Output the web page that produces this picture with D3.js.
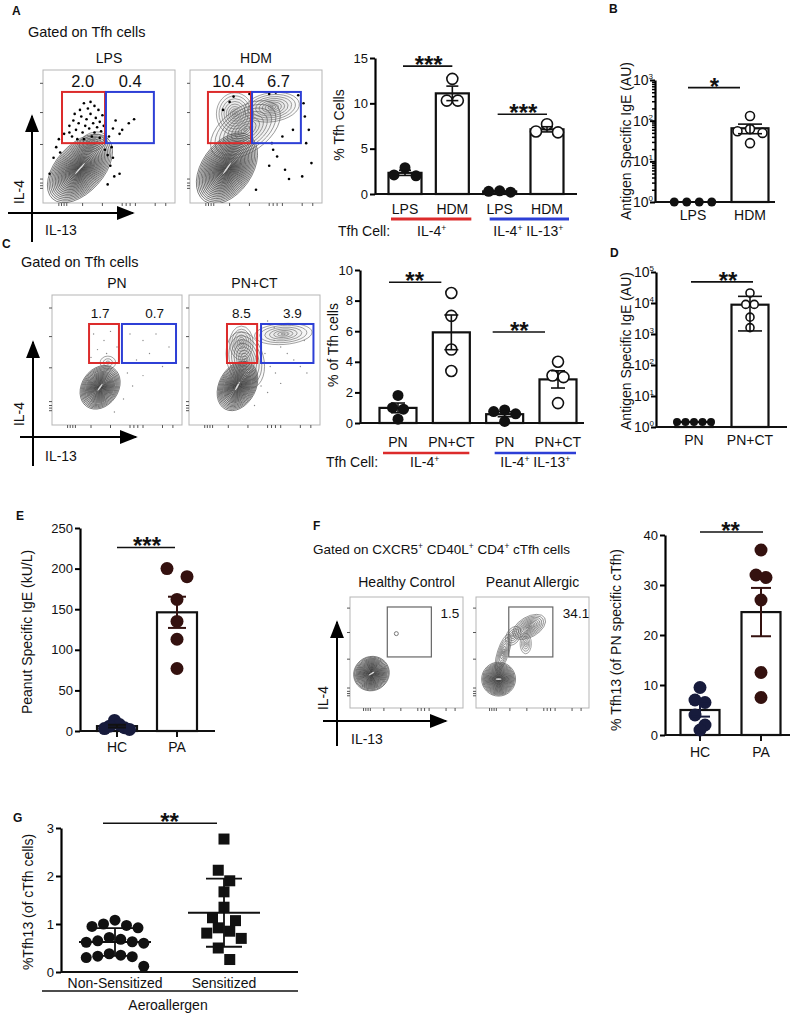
<!DOCTYPE html>
<html>
<head>
<meta charset="utf-8">
<script src="https://cdn.jsdelivr.net/npm/d3@7"></script>
<style>
  body { margin: 0; background: #fff; }
  svg text { font-family: "Liberation Sans", Arial, Helvetica, sans-serif; fill: #111; }
</style>
</head>
<body>
<svg id="fig" width="800" height="1021"></svg>
<script>
// ── Data ───────────────────────────────────────────────────────────────────
// A: % Tfh cells, IL-4+ and IL-4+IL-13+ (LPS vs HDM)
const aLabels = ['LPS', 'HDM', 'LPS', 'HDM'];
const aValues = [[2.9, 2.1, 2.0], [12.7, 10.3, 10.3], [0.35, 0.2, 0.3], [7.7, 6.9, 6.8]];
const aFilled = [true, false, true, false];
const aTicks = [0, 5, 10, 15];

// B: antigen specific IgE (log)
const bLabels = ['LPS', 'HDM'];
const bValues = [[1, 1, 1, 1], [130, 62, 55, 50, 28]];
const bFilled = [true, false];
const bTicks = [1, 10, 100, 1000];

// C: % of Tfh cells (PN vs PN+CT)
const cLabels = ['PN', 'PN+CT', 'PN', 'PN+CT'];
const cValues = [[1.8, 1.0, 0.9, 0.25], [8.5, 7.0, 4.8, 3.4], [0.85, 0.75, 0.6, 0.1], [4.0, 3.1, 3.0, 1.3]];
const cFilled = [true, false, true, false];
const cTicks = [0, 2, 4, 6, 8, 10];

// D: antigen specific IgE (log)
const dLabels = ['PN', 'PN+CT'];
const dValues = [[1.45, 1.45, 1.45, 1.45, 1.45], [21000, 9000, 9000, 3500, 1600]];
const dFilled = [true, false];
const dTicks = [1, 10, 100, 1000, 10000, 100000];

// E: peanut specific IgE (kU/L)
const eLabels = ['HC', 'PA'];
const eValues = [[13, 8, 6, 4, 3, 2], [200, 190, 162, 135, 113, 77]];
const eTicks = [0, 50, 100, 150, 200, 250];

// F: % Tfh13 of PN specific cTfh
const fLabels = ['HC', 'PA'];
const fValues = [[9.5, 7, 6.5, 4, 2, 1], [37, 32, 31.5, 27, 12.5, 7.5]];
const fTicks = [0, 10, 20, 30, 40];

// G: % Tfh13 of cTfh cells
const gLabels = ['Non-Sensitized', 'Sensitized'];
const gValues = [
  [1.08, 1.0, 0.97, 0.95, 0.92, 0.72, 0.68, 0.65, 0.63, 0.62, 0.6, 0.38, 0.35, 0.33, 0.32, 0.3, 0.12],
  [2.77, 2.12, 1.9, 1.67, 1.35, 1.13, 1.07, 0.92, 0.85, 0.81, 0.7, 0.5, 0.26]
];
const gTicks = [0, 1, 2, 3];

const HC_COL = '#171b3c';
const PA_COL = '#34110f';

// ── Flow plot shapes (relative to each plot box) ─────────────────────────────
const lpsBlobs = [
  { cx: .28, cy: .74, rx: .31, ry: .18, rot: -48, n: 26 },
  { cx: .38, cy: .54, rx: .11, ry: .07, rot: -20, n: 5 }
];
const lpsDots = [[.2,.42],[.23,.38],[.25,.45],[.27,.4],[.29,.35],[.3,.47],[.32,.42],[.33,.37],[.35,.44],[.36,.33],
  [.38,.4],[.39,.47],[.4,.36],[.41,.43],[.42,.3],[.43,.39],[.44,.46],[.45,.34],[.46,.42],[.22,.5],[.26,.52],[.31,.52],
  [.37,.5],[.43,.51],[.34,.29],[.39,.27],[.28,.3],[.47,.5],[.2,.47],[.16,.48],[.12,.52],[.1,.58],[.13,.62],[.08,.66],
  [.05,.78],[.5,.5],[.53,.44],[.55,.38],[.6,.45],[.65,.4],[.69,.37],[.58,.48],[.52,.58],[.53,.66],[.51,.72],[.54,.8],
  [.49,.86],[.58,.78],[.47,.6],[.49,.64],[.24,.33],[.31,.25],[.36,.24]];
const hdmBlobs = [
  { cx: .28, cy: .74, rx: .30, ry: .19, rot: -55, n: 26 },
  { cx: .42, cy: .45, rx: .30, ry: .17, rot: -35, n: 10 },
  { cx: .34, cy: .33, rx: .14, ry: .16, rot: 0, n: 9 },
  { cx: .62, cy: .28, rx: .21, ry: .11, rot: -8, n: 9 }
];
const hdmDots = [[.33,.2],[.45,.18],[.6,.18],[.65,.17],[.82,.19],[.86,.25],[.87,.35],[.9,.45],[.78,.45],[.7,.5],
  [.62,.55],[.63,.6],[.66,.65],[.6,.72],[.72,.75],[.75,.82],[.85,.8],[.5,.9],[.88,.55],[.92,.7],[.25,.3],[.3,.24]];
const pnBlobs = [
  { cx: .37, cy: .71, rx: .18, ry: .14, rot: -55, n: 24 },
  { cx: .43, cy: .52, rx: .06, ry: .05, rot: 0, n: 3 }
];
const pnDots = [[.32,.3],[.4,.35],[.45,.28],[.35,.42],[.5,.4],[.6,.3],[.7,.35],[.75,.45],[.65,.5],[.8,.3],[.9,.4],
  [.58,.6],[.62,.7],[.55,.8],[.7,.62],[.48,.9],[.85,.55],[.42,.45],[.3,.48]];
const pnctBlobs = [
  { cx: .37, cy: .70, rx: .20, ry: .14, rot: -62, n: 24 },
  { cx: .43, cy: .50, rx: .14, ry: .22, rot: -15, n: 9 },
  { cx: .40, cy: .37, rx: .09, ry: .13, rot: 0, n: 7 },
  { cx: .72, cy: .30, rx: .22, ry: .08, rot: -4, n: 7 }
];
const pnctDots = [[.6,.2],[.65,.25],[.7,.4],[.75,.45],[.8,.5],[.85,.55],[.58,.45],[.62,.55],[.66,.6],[.55,.7],
  [.6,.75],[.7,.68],[.9,.6],[.5,.85],[.75,.3],[.82,.22],[.88,.35],[.55,.35],[.65,.35],[.72,.52]];
const hcBlobs = [{ cx: .19, cy: .69, rx: .16, ry: .15, rot: -30, n: 24 }];
const hcDots = [[.41, .33]];
const paBlobs = [
  { cx: .20, cy: .74, rx: .15, ry: .15, rot: 0, n: 24 },
  { cx: .24, cy: .50, rx: .05, ry: .17, rot: 18, n: 7 },
  { cx: .33, cy: .35, rx: .06, ry: .09, rot: 30, n: 5 },
  { cx: .47, cy: .27, rx: .16, ry: .09, rot: -30, n: 11 },
  { cx: .44, cy: .42, rx: .05, ry: .09, rot: 0, n: 5 }
];
const flowTicksY = [.1, .32, .56, .82, .85, .87, .89];
const flowTicksX = [.12, .14, .16, .18, .3, .45, .6, .63, .66, .7, .85, .93];

// ── Setup ──────────────────────────────────────────────────────────────────
const svg = d3.select('#fig');
const defs = svg.append('defs');
defs.append('marker')
  .attr('id', 'arrow').attr('viewBox', '0 -5 10 10').attr('refX', 9).attr('refY', 0)
  .attr('markerWidth', 9).attr('markerHeight', 7).attr('preserveAspectRatio', 'none')
  .attr('orient', 'auto')
  .append('path').attr('d', 'M0,-5L10,0L0,5Z').attr('fill', '#000');

function label(x, y, txt, opts = {}) {
  return svg.append('text').attr('x', x).attr('y', y)
    .attr('text-anchor', opts.anchor || 'start')
    .attr('font-size', opts.size || 14)
    .attr('font-weight', opts.bold ? 'bold' : null)
    .text(txt);
}

// text with superscript "+" parts: [['IL-4', false], ['+', true]]
function richText(x, y, parts, anchor = 'middle', size = 14) {
  const t = svg.append('text').attr('x', x).attr('y', y).attr('text-anchor', anchor).attr('font-size', size);
  let up = false;
  parts.forEach(([s, sup]) => {
    const ts = t.append('tspan').text(s);
    if (sup && !up) { ts.attr('dy', -5).attr('font-size', size * 0.62); up = true; }
    else if (!sup && up) { ts.attr('dy', 5); up = false; }
  });
  return t;
}

function vLabel(x, y, txt, size = 14) {
  svg.append('text').attr('transform', `translate(${x},${y}) rotate(-90)`)
    .attr('text-anchor', 'middle').attr('font-size', size).text(txt);
}

// ── Flow cytometry contour plots ───────────────────────────────────────────
function flowPlot(cfg) {
  const [bx, by, bw, bh] = cfg.box;
  const x = d3.scaleLinear().domain([0, 1]).range([bx, bx + bw]);
  const y = d3.scaleLinear().domain([0, 1]).range([by, by + bh]);
  const g = svg.append('g');

  g.append('text').attr('x', x(0.5)).attr('y', by - cfg.titleGap)
    .attr('text-anchor', 'middle').attr('font-size', 14).text(cfg.title);

  g.append('rect').attr('x', bx).attr('y', by).attr('width', bw).attr('height', bh)
    .attr('fill', '#fff').attr('stroke', '#b5b5b5').attr('stroke-width', 1);

  g.selectAll('.ty').data(flowTicksY).join('line')
    .attr('x1', bx - 3).attr('x2', bx).attr('y1', d => y(d)).attr('y2', d => y(d))
    .attr('stroke', '#555').attr('stroke-width', 1);
  g.selectAll('.tx').data(flowTicksX).join('line')
    .attr('x1', d => x(d)).attr('x2', d => x(d)).attr('y1', by + bh).attr('y2', by + bh + 3)
    .attr('stroke', '#555').attr('stroke-width', 1);

  const clip = 'clip-' + cfg.id;
  defs.append('clipPath').attr('id', clip).append('rect')
    .attr('x', bx).attr('y', by).attr('width', bw).attr('height', bh);
  const inner = g.append('g').attr('clip-path', `url(#${clip})`);

  cfg.blobs.forEach(b => {
    const main = b.n > 15;
    const rings = d3.range(b.n, 0, -1);
    inner.append('g').selectAll('ellipse').data(rings).join('ellipse')
      .attr('cx', x(b.cx)).attr('cy', y(b.cy))
      .attr('rx', k => b.rx * bw * Math.pow(k / b.n, 1.3))
      .attr('ry', k => b.ry * bw * Math.pow(k / b.n, 1.3))
      .attr('transform', `rotate(${b.rot},${x(b.cx)},${y(b.cy)})`)
      .attr('fill', '#000').attr('fill-opacity', main ? 0.028 : 0.02)
      .attr('stroke', main ? '#2a2a2a' : '#5a5a5a')
      .attr('stroke-width', 0.55);
    if (main) {
      inner.append('ellipse').attr('cx', x(b.cx)).attr('cy', y(b.cy))
        .attr('rx', b.rx * bw * 0.18).attr('ry', 0.8)
        .attr('transform', `rotate(${b.rot},${x(b.cx)},${y(b.cy)})`)
        .attr('fill', '#fff').attr('fill-opacity', 0.8);
    }
  });

  inner.selectAll('.dot').data(cfg.dots).join('circle')
    .attr('cx', d => x(d[0])).attr('cy', d => y(d[1]))
    .attr('r', cfg.dotR).attr('fill', cfg.dotFill).attr('stroke', cfg.dotStroke || 'none');

  cfg.gates.forEach(gt => {
    g.append('rect').attr('x', x(gt.x0)).attr('y', y(gt.y0))
      .attr('width', x(gt.x1) - x(gt.x0)).attr('height', y(gt.y1) - y(gt.y0))
      .attr('fill', 'none').attr('stroke', gt.color).attr('stroke-width', gt.w);
  });

  cfg.nums.forEach(nm => {
    g.append('text').attr('x', x(nm.x)).attr('y', y(nm.y)).attr('text-anchor', 'middle')
      .attr('font-size', cfg.numSize).text(nm.t);
  });
}

function axisArrows(ox, oy, top, right, left, bottom) {
  svg.append('line').attr('x1', ox).attr('y1', bottom).attr('x2', ox).attr('y2', top)
    .attr('stroke', '#000').attr('stroke-width', 2).attr('marker-end', 'url(#arrow)');
  svg.append('line').attr('x1', left).attr('y1', oy).attr('x2', right).attr('y2', oy)
    .attr('stroke', '#000').attr('stroke-width', 2).attr('marker-end', 'url(#arrow)');
}

// ── Bar / scatter panels ───────────────────────────────────────────────────
// rows of points sharing a height are spread symmetrically around the centre
function swarm(vals, yS, dist, step) {
  const idx = d3.range(vals.length).sort((a, b) => vals[b] - vals[a]);
  const off = new Array(vals.length).fill(0);
  let row = [];
  const flush = () => {
    const n = row.length;
    const slots = d3.range(n).map(i => i - (n - 1) / 2).sort((a, b) => Math.abs(a) - Math.abs(b) || a - b);
    row.forEach((i, k) => { off[i] = slots[k] * step; });
    row = [];
  };
  idx.forEach(i => {
    if (row.length && Math.abs(yS(vals[i]) - yS(vals[row[0]])) > dist) flush();
    row.push(i);
  });
  flush();
  return off;
}

function barPanel(cfg) {
  const g = svg.append('g');
  const y = cfg.y;
  const x = d3.scalePoint().domain(d3.range(cfg.labels.length)).range(cfg.centers);
  const base = y.domain()[0];
  const y0 = y(base);
  const ax0 = cfg.axisX[0];

  if (cfg.minor) {
    g.append('g').attr('transform', `translate(${ax0},0)`)
      .call(d3.axisLeft(y).tickValues(cfg.minor).tickSize(3).tickFormat(''))
      .call(s => s.select('.domain').remove())
      .call(s => s.selectAll('line').attr('stroke-width', 1.5));
  }
  const ax = g.append('g').attr('transform', `translate(${ax0},0)`)
    .call(d3.axisLeft(y).tickValues(cfg.ticks).tickSize(5).tickSizeOuter(0).tickPadding(cfg.log ? -3 : 2)
      .tickFormat(cfg.log ? '' : d3.format('d')));
  ax.attr('font-size', cfg.log ? 14 : 13).attr('font-family', null);
  ax.select('.domain').attr('stroke-width', 2.2);
  ax.selectAll('.tick line').attr('stroke-width', 2);
  ax.selectAll('.tick text').attr('fill', '#111');
  if (cfg.log) {
    ax.selectAll('.tick text').each(function (d) {
      const t = d3.select(this);
      t.text('10');
      t.append('tspan').attr('dy', -6).attr('font-size', 8).text(Math.round(Math.log10(d)));
    });
  }

  g.append('line').attr('x1', ax0).attr('x2', cfg.axisX[1]).attr('y1', y0).attr('y2', y0)
    .attr('stroke', '#111').attr('stroke-width', 2.2);
  if (cfg.xTicks) {
    g.selectAll('.xt').data(cfg.labels).join('line')
      .attr('x1', (d, i) => x(i)).attr('x2', (d, i) => x(i)).attr('y1', y0).attr('y2', y0 + 6)
      .attr('stroke', '#111').attr('stroke-width', 2);
  }

  const stats = cfg.values.map(v => {
    const m = d3.mean(v);
    const sd = d3.deviation(v) || 0;
    return { m, e: cfg.err === 'sd' ? sd : sd / Math.sqrt(v.length) };
  });

  if (cfg.bars) {
    g.selectAll('.bar').data(stats).join('rect')
      .attr('x', (d, i) => x(i) - cfg.bw / 2).attr('width', cfg.bw)
      .attr('y', d => y(d.m)).attr('height', d => Math.max(0, y0 - y(d.m)))
      .attr('fill', '#fff').attr('stroke', '#111').attr('stroke-width', 2.2);
  }

  cfg.values.forEach((vals, i) => {
    const step = Array.isArray(cfg.step) ? cfg.step[i] : cfg.step;
    const off = swarm(vals, y, cfg.dist, step);
    const col = cfg.colors ? cfg.colors[i] : '#111';
    const isSq = cfg.square && i === 1;
    const pts = g.append('g').selectAll('.pt').data(vals).join(isSq ? 'rect' : 'circle');
    if (isSq) {
      pts.attr('x', (d, k) => x(i) + off[k] - cfg.r).attr('y', d => y(d) - cfg.r)
        .attr('width', cfg.r * 2).attr('height', cfg.r * 2).attr('fill', col);
    } else {
      pts.attr('cx', (d, k) => x(i) + off[k]).attr('cy', d => y(d)).attr('r', cfg.r)
        .attr('fill', cfg.filled && !cfg.filled[i] ? '#fff' : col)
        .attr('stroke', col).attr('stroke-width', cfg.filled && !cfg.filled[i] ? 1.6 : 0);
    }
  });

  stats.forEach((s, i) => {
    if (s.e === 0) return;
    const col = cfg.errColors ? cfg.errColors[i] : '#111';
    const lo = y(Math.max(s.m - s.e, base)), hi = y(s.m + s.e);
    const eg = g.append('g').attr('stroke', col).attr('stroke-width', cfg.errW || 1.6);
    eg.append('line').attr('x1', x(i)).attr('x2', x(i)).attr('y1', lo).attr('y2', hi);
    eg.append('line').attr('x1', x(i) - cfg.cap).attr('x2', x(i) + cfg.cap).attr('y1', hi).attr('y2', hi);
    if (s.m - s.e > base) eg.append('line').attr('x1', x(i) - cfg.cap).attr('x2', x(i) + cfg.cap).attr('y1', lo).attr('y2', lo);
    if (cfg.meanLine) eg.append('line').attr('x1', x(i) - cfg.meanLine).attr('x2', x(i) + cfg.meanLine)
      .attr('y1', y(s.m)).attr('y2', y(s.m));
  });

  cfg.sig.forEach(sg => {
    const ys = y(sg.v);
    g.append('line').attr('x1', x(sg.a) + (sg.da || 0)).attr('x2', x(sg.b) + (sg.db || 0))
      .attr('y1', ys).attr('y2', ys).attr('stroke', '#111').attr('stroke-width', 1.6);
    g.append('text').attr('x', (x(sg.a) + x(sg.b)) / 2 + (sg.dt || 0)).attr('y', ys + 7)
      .attr('text-anchor', 'middle').attr('font-size', 24).attr('font-weight', 'bold').text(sg.t);
  });

  g.selectAll('.xl').data(cfg.labels).join('text')
    .attr('x', (d, i) => x(i)).attr('y', y0 + cfg.labDy).attr('text-anchor', 'middle')
    .attr('font-size', 14).text(d => d);

  g.append('text').attr('transform', `translate(${cfg.ylab[0]},${cfg.ylab[1]}) rotate(-90)`)
    .attr('text-anchor', 'middle').attr('font-size', 14).text(cfg.ylabel);

  return x;
}

// ── Panel letters and headings ──────────────────────────────────────────────
label(12, 15, 'A', { bold: true, size: 12 });
label(609, 13, 'B', { bold: true, size: 12 });
label(2, 248, 'C', { bold: true, size: 12 });
label(610, 257, 'D', { bold: true, size: 12 });
label(16, 520, 'E', { bold: true, size: 12 });
label(313, 530, 'F', { bold: true, size: 12 });
label(13, 822, 'G', { bold: true, size: 12 });

label(28, 37, 'Gated on Tfh cells', { size: 14.5 });
label(21, 267, 'Gated on Tfh cells', { size: 14.5 });
richText(313, 554, [['Gated on CXCR5', false], ['+', true], [' CD40L', false], ['+', true], [' CD4', false], ['+', true], [' cTfh cells', false]], 'start', 13.5);

// ── A flow ─────────────────────────────────────────────────────────────────
const RED = '#dc2b2b', BLUE = '#2d3fd6';
flowPlot({ id: 'lps', title: 'LPS', box: [43, 70, 132, 133], titleGap: 7, blobs: lpsBlobs, dots: lpsDots,
  dotR: 1.3, dotFill: '#000', numSize: 16.5,
  gates: [{ x0: .144, x1: .47, y0: .165, y1: .55, color: RED, w: 2 }, { x0: .477, x1: .84, y0: .165, y1: .55, color: BLUE, w: 2 }],
  nums: [{ x: .3, y: .13, t: '2.0' }, { x: .66, y: .13, t: '0.4' }] });
flowPlot({ id: 'hdm', title: 'HDM', box: [190, 70, 132, 133], titleGap: 7, blobs: hdmBlobs, dots: hdmDots,
  dotR: 1.3, dotFill: '#000', numSize: 16.5,
  gates: [{ x0: .136, x1: .462, y0: .165, y1: .55, color: RED, w: 2 }, { x0: .47, x1: .84, y0: .165, y1: .55, color: BLUE, w: 2 }],
  nums: [{ x: .29, y: .13, t: '10.4' }, { x: .67, y: .13, t: '6.7' }] });
axisArrows(32, 213, 116, 133, 8, 242);
vLabel(24, 192, 'IL-4');
label(45, 235, 'IL-13');

// ── C flow ─────────────────────────────────────────────────────────────────
flowPlot({ id: 'pn', title: 'PN', box: [52, 295, 130, 130], titleGap: 7, blobs: pnBlobs, dots: pnDots,
  dotR: 0.7, dotFill: '#888', numSize: 13.5,
  gates: [{ x0: .285, x1: .515, y0: .223, y1: .523, color: RED, w: 2 }, { x0: .538, x1: .954, y0: .223, y1: .523, color: BLUE, w: 2 }],
  nums: [{ x: .37, y: .18, t: '1.7' }, { x: .79, y: .18, t: '0.7' }] });
flowPlot({ id: 'pnct', title: 'PN+CT', box: [189, 295, 131, 130], titleGap: 7, blobs: pnctBlobs, dots: pnctDots,
  dotR: 0.7, dotFill: '#888', numSize: 13.5,
  gates: [{ x0: .29, x1: .52, y0: .223, y1: .523, color: RED, w: 2 }, { x0: .55, x1: .95, y0: .223, y1: .523, color: BLUE, w: 2 }],
  nums: [{ x: .4, y: .18, t: '8.5' }, { x: .79, y: .18, t: '3.9' }] });
axisArrows(33, 437, 342, 136, 20, 466);
vLabel(24, 414, 'IL-4');
label(45, 461, 'IL-13');

// ── F flow ─────────────────────────────────────────────────────────────────
flowPlot({ id: 'hc', title: 'Healthy Control', box: [350, 597, 113, 111], titleGap: 10, blobs: hcBlobs, dots: hcDots,
  dotR: 2, dotFill: 'none', dotStroke: '#777', numSize: 13.5,
  gates: [{ x0: .33, x1: .72, y0: .09, y1: .54, color: '#666', w: 1.2 }],
  nums: [{ x: .885, y: .19, t: '1.5' }] });
flowPlot({ id: 'pa', title: 'Peanut Allergic', box: [476, 597, 113, 111], titleGap: 10, blobs: paBlobs, dots: [],
  dotR: 1, dotFill: '#000', numSize: 13.5,
  gates: [{ x0: .29, x1: .68, y0: .09, y1: .54, color: '#666', w: 1.2 }],
  nums: [{ x: .885, y: .19, t: '34.1' }] });
axisArrows(337, 721, 622, 446, 323, 746);
vLabel(328, 698, 'IL-4');
label(351, 744, 'IL-13');

// ── A bars ─────────────────────────────────────────────────────────────────
const xA = barPanel({ labels: aLabels, values: aValues, filled: aFilled, ticks: aTicks,
  y: d3.scaleLinear().domain([0, 15]).range([194, 58]), centers: [405, 547], axisX: [375, 577],
  bars: true, bw: 33, r: 5.5, dist: 10, step: 11, cap: 6, err: 'sem',
  sig: [{ a: 0, b: 1, v: 14.1, t: '***', da: -2 }, { a: 2, b: 3, v: 8.8, t: '***', da: -2 }],
  labDy: 20, ylab: [344, 125], ylabel: '% Tfh Cells' });
svg.append('line').attr('x1', xA(0) - 14).attr('x2', xA(1) + 19).attr('y1', 219).attr('y2', 219).attr('stroke', RED).attr('stroke-width', 3);
svg.append('line').attr('x1', xA(2) - 10).attr('x2', xA(3) + 22).attr('y1', 219).attr('y2', 219).attr('stroke', BLUE).attr('stroke-width', 3);
label(338, 236, 'Tfh Cell:');
richText((xA(0) + xA(1)) / 2 + 3, 236, [['IL-4', false], ['+', true]]);
richText((xA(2) + xA(3)) / 2 + 5, 236, [['IL-4', false], ['+', true], [' IL-13', false], ['+', true]]);

// ── B ──────────────────────────────────────────────────────────────────────
const minorB = [];
[1, 10, 100].forEach(dec => d3.range(2, 10).forEach(k => minorB.push(dec * k)));
barPanel({ labels: bLabels, values: bValues, filled: bFilled, ticks: bTicks, minor: minorB, log: true,
  y: d3.scaleLog().domain([1, 1000]).range([202, 80]), centers: [693, 750], axisX: [655, 775],
  bars: true, bw: 37, r: 4.5, dist: 8, step: 12.5, cap: 12, err: 'sem',
  sig: [{ a: 0, b: 1, v: 650, t: '*', da: -5, db: -10, dt: -7 }],
  labDy: 18, ylab: [631, 141], ylabel: 'Antigen Specific IgE (AU)' });

// ── C bars ─────────────────────────────────────────────────────────────────
const xC = barPanel({ labels: cLabels, values: cValues, filled: cFilled, ticks: cTicks,
  y: d3.scaleLinear().domain([0, 10]).range([423, 270]), centers: [398, 558], axisX: [360, 584],
  bars: true, bw: 37, r: 5.5, dist: 10, step: 11, cap: 7, err: 'sem',
  sig: [{ a: 0, b: 1, v: 9.2, t: '**', da: -9, db: -10, dt: -10 }, { a: 2, b: 3, v: 5.95, t: '**', da: -12, db: -13, dt: -12 }],
  labDy: 24, ylab: [338, 345], ylabel: '% of Tfh cells' });
svg.append('line').attr('x1', xC(0) - 15).attr('x2', xC(1) + 18).attr('y1', 453).attr('y2', 453).attr('stroke', RED).attr('stroke-width', 2.5);
svg.append('line').attr('x1', xC(2) - 10).attr('x2', xC(3) + 18).attr('y1', 453).attr('y2', 453).attr('stroke', BLUE).attr('stroke-width', 2.5);
label(326, 467, 'Tfh Cell:');
richText((xC(0) + xC(1)) / 2, 467, [['IL-4', false], ['+', true]]);
richText((xC(2) + xC(3)) / 2 + 4, 467, [['IL-4', false], ['+', true], [' IL-13', false], ['+', true]]);

// ── D ──────────────────────────────────────────────────────────────────────
barPanel({ labels: dLabels, values: dValues, filled: dFilled, ticks: dTicks, log: true,
  y: d3.scaleLog().domain([1, 100000]).range([427, 272]), centers: [694, 750], axisX: [656, 787],
  bars: true, bw: 37, r: 4, dist: 7, step: 8.5, cap: 12, err: 'sd',
  sig: [{ a: 0, b: 1, v: 48000, t: '**', da: -3, db: 3, dt: 6 }],
  labDy: 18, ylab: [631, 351], ylabel: 'Antigen Specific IgE (AU)' });

// ── E ──────────────────────────────────────────────────────────────────────
barPanel({ labels: eLabels, values: eValues, colors: [HC_COL, PA_COL], errColors: ['#111', PA_COL], ticks: eTicks,
  y: d3.scaleLinear().domain([0, 250]).range([731, 528]), centers: [117, 177], axisX: [80, 215], xTicks: true,
  bars: true, bw: 40, r: 6.5, dist: 11, step: [5, 20], cap: 9, err: 'sem', errW: 2,
  sig: [{ a: 0, b: 1, v: 226, t: '***', db: -2 }],
  labDy: 21, ylab: [32, 632], ylabel: 'Peanut Specific IgE (kU/L)' });

// ── F ──────────────────────────────────────────────────────────────────────
barPanel({ labels: fLabels, values: fValues, colors: [HC_COL, PA_COL], errColors: [HC_COL, PA_COL], ticks: fTicks,
  y: d3.scaleLinear().domain([0, 40]).range([735, 535]), centers: [700, 761], axisX: [665, 790], xTicks: true,
  bars: true, bw: 39, r: 6.5, dist: 11, step: [10, 10], cap: 10, err: 'sem', errW: 2,
  sig: [{ a: 0, b: 1, v: 40.6, t: '**', db: 2 }],
  labDy: 22, ylab: [621, 640], ylabel: '% Tfh13 (of PN specific cTfh)' });

// ── G ──────────────────────────────────────────────────────────────────────
barPanel({ labels: gLabels, values: gValues, square: true, ticks: gTicks,
  y: d3.scaleLinear().domain([0, 3]).range([972, 828]), centers: [115, 224], axisX: [61, 298],
  bars: false, r: 5.5, dist: 14, step: 11.5, cap: 18, err: 'sd', meanLine: 36, errW: 1.8,
  sig: [{ a: 0, b: 1, v: 3.1, t: '**', da: -12, db: -7, dt: 0 }],
  labDy: 16, ylab: [33, 902], ylabel: '%Tfh13 (of cTfh cells)' });
svg.append('line').attr('x1', 42).attr('x2', 298).attr('y1', 991).attr('y2', 991).attr('stroke', '#111').attr('stroke-width', 1.6);
label(168, 1010, 'Aeroallergen', { anchor: 'middle' });
</script>
</body>
</html>
